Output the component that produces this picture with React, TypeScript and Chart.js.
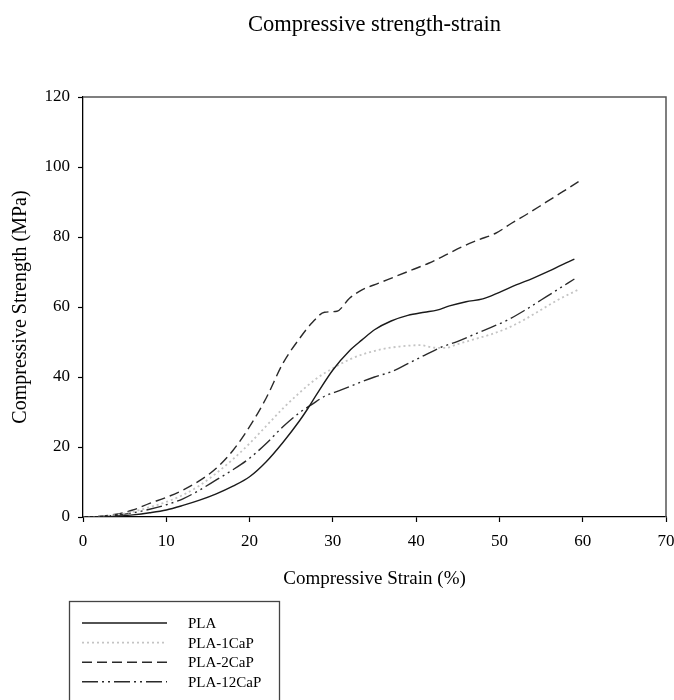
import React, { useEffect, useRef } from "react";
import { Chart, registerables } from "chart.js";
Chart.register(...registerables);

const SERIF = '"Liberation Serif", "Times New Roman", serif';
const TITLE = "Compressive strength-strain";
const X_TITLE = "Compressive Strain (%)";
const Y_TITLE = "Compressive Strength (MPa)";

const seriesNames = ["PLA", "PLA-1CaP", "PLA-2CaP", "PLA-12CaP"];

const plaStrain = [0, 2, 4, 6, 8, 10, 12, 14, 16, 18, 20, 22, 24, 26, 27, 28, 30, 32, 33.5, 35, 37, 39, 41, 42.5, 44, 46, 48, 50, 52, 54, 56, 58, 59];
const plaStress = [0, 0, 0.2, 0.6, 1.2, 2, 3.3, 4.8, 6.6, 8.8, 11.5, 15.8, 21.3, 27.5, 31, 34.8, 42, 47.5, 50.6, 53.5, 56, 57.6, 58.5, 59.1, 60.3, 61.5, 62.3, 64.2, 66.3, 68.2, 70.3, 72.6, 73.7];

const ca1Strain = [0, 2, 4, 6, 8, 10, 12, 14, 16, 18, 20, 22, 24, 26, 28, 30, 32, 34, 36, 38, 40.5, 42, 43.5, 45, 47, 49, 51, 53, 55, 57, 59.5];
const ca1Stress = [0, 0.1, 0.6, 1.5, 2.8, 4.3, 6.3, 9, 12.5, 16.5, 21, 26, 31, 35.5, 39.5, 42.5, 45, 46.8, 48, 48.7, 49.1, 48.4, 48.3, 49.4, 50.8, 52.2, 54, 56.4, 59.2, 62, 65];

const ca2Strain = [0, 2, 4, 6, 8, 10, 12, 14, 16, 18, 20, 22, 24, 26, 27.5, 29, 30.5, 32, 33.5, 35.5, 37.5, 39.5, 41.5, 43.5, 45.5, 47.5, 49.5, 51.5, 53.5, 55.5, 57.5, 59.5];
const ca2Stress = [0, 0.2, 0.8, 2, 3.9, 5.6, 7.7, 10.4, 13.9, 19, 25.8, 34, 43.9, 51, 55.5, 58.5, 58.8, 62.5, 64.9, 66.8, 68.7, 70.6, 72.5, 74.8, 77.2, 79.2, 81, 84, 86.8, 89.8, 92.8, 95.8];

const ca12Strain = [0, 2, 4, 6, 8, 10, 12, 14, 16, 18, 20, 22, 24, 26, 27.5, 29, 31, 33, 35, 37, 39, 41, 43, 45, 47, 49, 51, 53, 55, 57, 59];
const ca12Stress = [0, 0.1, 0.5, 1.2, 2.2, 3.5, 5.2, 7.7, 10.6, 13.5, 16.8, 21, 25.8, 29.8, 32.2, 34.5, 36.3, 38.2, 40, 41.5, 43.8, 46.2, 48.5, 50.2, 52.2, 54.2, 56.3, 59, 62, 65, 68];

const xTickValues = [0, 10, 20, 30, 40, 50, 60, 70];
const yTickValues = [0, 20, 40, 60, 80, 100, 120];

const styles = [
  { color: "#1a1a1a", width: 1.4, dash: [] as number[] },
  { color: "#c4c4c4", width: 1.8, dash: [2, 3] },
  { color: "#2a2a2a", width: 1.4, dash: [10, 5] },
  { color: "#2a2a2a", width: 1.4, dash: [16, 4, 2, 4, 2, 4] },
];

const toPoints = (xs: number[], ys: number[]) => xs.map((x, i) => ({ x, y: ys[i] }));

const decorPlugin = {
  id: "decor",
  afterDraw(chart: any) {
    const { ctx, chartArea: a } = chart;
    ctx.save();
    ctx.strokeStyle = "#555";
    ctx.lineWidth = 1.5;
    ctx.setLineDash([]);
    ctx.beginPath();
    ctx.moveTo(a.left, a.top);
    ctx.lineTo(a.right, a.top);
    ctx.lineTo(a.right, a.bottom);
    ctx.stroke();
    ctx.fillStyle = "#000";
    ctx.font = `22.5px ${SERIF}`;
    ctx.textAlign = "center";
    ctx.textBaseline = "middle";
    ctx.fillText(TITLE, (a.left + a.right) / 2, 25);
    ctx.strokeStyle = "#444";
    ctx.lineWidth = 1.3;
    ctx.strokeRect(69.5, 601.5, 210, 120);
    ctx.font = `15px ${SERIF}`;
    ctx.textAlign = "left";
    chart.data.datasets.forEach((ds: any, i: number) => {
      const y = 623 + i * 19.6;
      ctx.strokeStyle = ds.borderColor;
      ctx.lineWidth = ds.borderWidth;
      ctx.setLineDash(ds.borderDash || []);
      ctx.beginPath();
      ctx.moveTo(82, y);
      ctx.lineTo(167, y);
      ctx.stroke();
      ctx.setLineDash([]);
      ctx.fillStyle = "#000";
      ctx.fillText(ds.label, 188, y + 1);
    });
    ctx.restore();
  },
};

export default function App() {
  const ref = useRef<HTMLCanvasElement>(null);
  useEffect(() => {
    if (!ref.current) return;
    const series = [
      toPoints(plaStrain, plaStress),
      toPoints(ca1Strain, ca1Stress),
      toPoints(ca2Strain, ca2Stress),
      toPoints(ca12Strain, ca12Stress),
    ];
    const chart = new Chart(ref.current, {
      type: "line",
      data: {
        datasets: series.map((data, i) => ({
          label: seriesNames[i],
          data,
          borderColor: styles[i].color,
          borderWidth: styles[i].width,
          borderDash: styles[i].dash,
          pointRadius: 0,
          fill: false,
          cubicInterpolationMode: "monotone" as const,
        })),
      },
      options: {
        animation: false,
        responsive: false,
        events: [],
        layout: { padding: { left: 0, top: 97, right: 8, bottom: 103 } },
        plugins: { legend: { display: false }, title: { display: false }, tooltip: { enabled: false } },
        scales: {
          x: {
            type: "linear",
            min: 0,
            max: 70,
            afterBuildTicks: (s: any) => { s.ticks = xTickValues.map((v) => ({ value: v })); },
            afterFit: (s: any) => { s.height = 80; s.paddingLeft = 0; s.paddingRight = 0; },
            border: { display: true, color: "#000", width: 1.3 },
            grid: { drawOnChartArea: false, drawTicks: true, tickLength: 5, tickColor: "#000", tickWidth: 1.2 },
            ticks: { color: "#000", font: { family: SERIF, size: 17 }, padding: 9, maxRotation: 0 },
            title: { display: true, text: X_TITLE, color: "#000", font: { family: SERIF, size: 19 }, padding: { top: 0, bottom: 7 } },
          },
          y: {
            type: "linear",
            min: 0,
            max: 120,
            afterBuildTicks: (s: any) => { s.ticks = yTickValues.map((v) => ({ value: v })); },
            afterFit: (s: any) => { s.width = 83; s.paddingTop = 0; s.paddingBottom = 0; },
            border: { display: true, color: "#000", width: 1.3 },
            grid: { drawOnChartArea: false, drawTicks: true, tickLength: 5, tickColor: "#000", tickWidth: 1.2 },
            ticks: { color: "#000", font: { family: SERIF, size: 17 }, padding: 8 },
            title: { display: true, text: Y_TITLE, color: "#000", font: { family: SERIF, size: 20 }, padding: { top: 9, bottom: 0 } },
          },
        },
      },
      plugins: [decorPlugin],
    });
    return () => chart.destroy();
  }, []);
  return (
    <div style={{ position: "absolute", left: 0, top: 0, width: 674, height: 700, background: "#fff" }}>
      <canvas ref={ref} width={674} height={700} style={{ display: "block", width: 674, height: 700 }} />
    </div>
  );
}
